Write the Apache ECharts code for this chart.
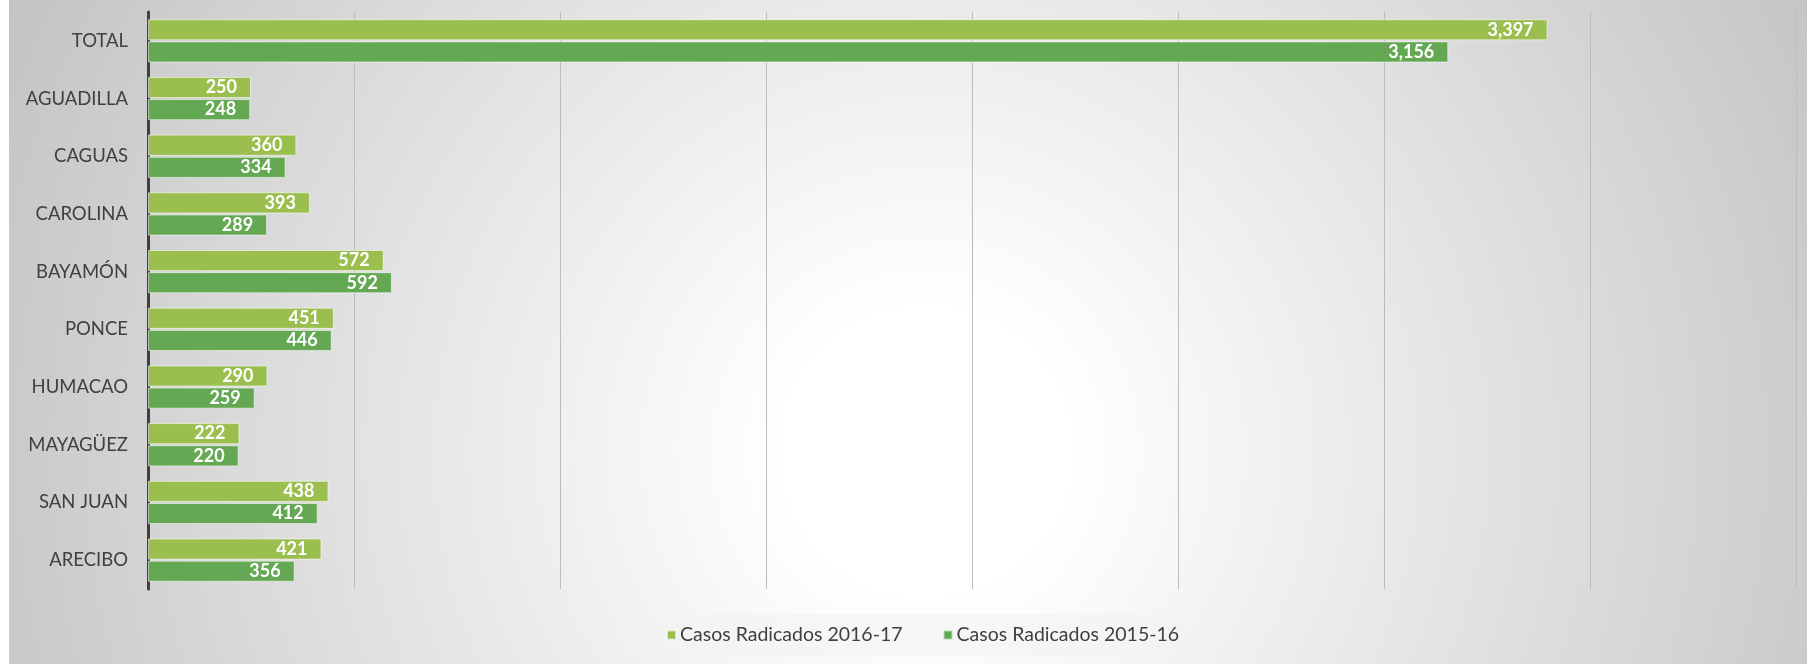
<!DOCTYPE html>
<html>
<head>
<meta charset="utf-8">
<script src="https://cdn.jsdelivr.net/npm/echarts@6/dist/echarts.min.js"></script>
<style>
  html, body { margin: 0; padding: 0; background: #ffffff; }
  #bg { position: absolute; left: 9px; top: 0; width: 1798px; height: 664px;
        background: radial-gradient(circle farthest-corner at 51% 68%, #ffffff 0%, #ffffff 14%, #c3c3c3 100%); }
  #chart { position: absolute; left: 0; top: 0; width: 1807px; height: 665px; }
</style>
</head>
<body>
<div id="bg"></div>
<div id="chart"></div>
<script>
const categories = ['TOTAL', 'AGUADILLA', 'CAGUAS', 'CAROLINA', 'BAYAMÓN', 'PONCE', 'HUMACAO', 'MAYAGÜEZ', 'SAN JUAN', 'ARECIBO'];
const casos2016_17 = [3397, 250, 360, 393, 572, 451, 290, 222, 438, 421];
const casos2015_16 = [3156, 248, 334, 289, 592, 446, 259, 220, 412, 356];
const seriesNames = ['Casos Radicados 2016-17', 'Casos Radicados 2015-16'];

const chart = echarts.init(document.getElementById('chart'), null, { renderer: 'canvas' });
const labelStyle = {
  show: true,
  position: 'insideRight',
  distance: 14,
  color: '#ffffff',
  fontFamily: 'Lato',
  fontWeight: 'bold',
  fontSize: 18,
  formatter: p => Number(p.value).toLocaleString('en-US')
};
chart.setOption({
  backgroundColor: 'transparent',
  animation: false,
  textStyle: { fontFamily: 'Lato' },
  grid: { left: 148, right: 11, top: 12, bottom: 76, containLabel: false },
  legend: {
    data: seriesNames,
    left: 622,
    top: 614,
    itemWidth: 9,
    itemHeight: 9,
    itemGap: 40,
    padding: [11, 30, 11, 44],
    backgroundColor: 'rgba(242,242,242,0.55)',
    icon: 'rect',
    textStyle: { fontFamily: 'Lato', fontSize: 19.5, color: '#404040', padding: [0, 0, 0, -1] }
  },
  xAxis: {
    type: 'value',
    min: 0,
    max: 4000,
    interval: 500,
    axisLabel: { show: false },
    axisLine: { show: false },
    axisTick: { show: false },
    splitLine: { show: true, lineStyle: { color: '#bcbcbc', width: 1 } }
  },
  yAxis: {
    type: 'category',
    data: categories,
    inverse: true,
    axisTick: { show: false },
    axisLine: { show: true, lineStyle: { color: '#404040', width: 3 } },
    axisLabel: { fontFamily: 'Lato', fontSize: 18.5, color: '#404040', margin: 20 }
  },
  series: [
    {
      name: seriesNames[0],
      type: 'bar',
      data: casos2016_17,
      barCategoryGap: '25%',
      barGap: '5%',
      itemStyle: { color: '#9bbf4f', borderColor: 'rgba(255,255,255,0.55)', borderWidth: 1 },
      label: labelStyle
    },
    {
      name: seriesNames[1],
      type: 'bar',
      data: casos2015_16,
      barCategoryGap: '25%',
      barGap: '5%',
      itemStyle: { color: '#65a853', borderColor: 'rgba(255,255,255,0.55)', borderWidth: 1 },
      label: labelStyle
    }
  ]
});
</script>
</body>
</html>
